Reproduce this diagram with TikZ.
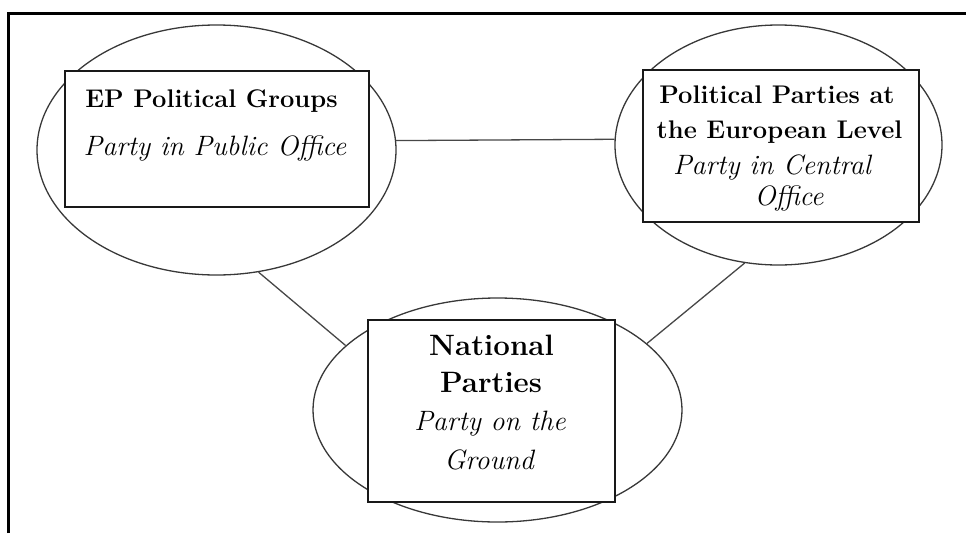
\documentclass[tikz,border=0pt]{standalone}
\usepackage{fontspec}
\usetikzlibrary{shapes.geometric}
\begin{document}
\begin{tikzpicture}[x=1pt,y=-1pt,
  oval/.style={draw=black!78, line width=1.3pt, ellipse, inner sep=0pt},
  box/.style={draw=black!90, line width=1.5pt, fill=white, rectangle, inner sep=0pt},
  link/.style={draw=black!72, line width=1.3pt},
  frameline/.style={line width=2.3pt},
  hd/.style={anchor=base, inner sep=0pt, font=\fontsize{25.5}{30}\selectfont\bfseries},
  hdbig/.style={anchor=base, inner sep=0pt, font=\fontsize{29.5}{34}\selectfont\bfseries},
  sub/.style={anchor=base, inner sep=0pt, font=\fontsize{28}{33}\selectfont\itshape}]
\useasboundingbox (0,0) rectangle (966,533);
\draw[frameline] (8.5,533) -- (8.5,13.5) -- (966,13.5);
% ellipses
\node[oval, minimum width=359pt, minimum height=250pt] (ep) at (216.5,150) {};
\node[oval, minimum width=327pt, minimum height=240pt] (eu) at (778.5,145) {};
\node[oval, minimum width=369pt, minimum height=224pt] (nat) at (497.5,410) {};
% connectors
\draw[link] (ep.3) -- (eu.178);
\draw[link] (ep.-71.5) -- (nat.157.6);
\draw[link] (eu.-106.9) -- (nat.24.7);
% boxes
\node[box, minimum width=304pt, minimum height=136pt] (epbox) at (217,139) {};
\node[box, minimum width=276pt, minimum height=152pt] (eubox) at (781,146) {};
\node[box, minimum width=247pt, minimum height=182pt] (natbox) at (491.5,411) {};
% texts
\node[hd] (ep1) at (211.5,107) {EP Political Groups};
\node[sub] (ep2) at (215,155) {Party in Public Office};
\node[hd] (eu1) at (777,103) {Political Parties at};
\node[hd] (eu2) at (779.5,138) {the European Level};
\node[sub] (eu3) at (772,174) {Party in Central};
\node[sub] (eu4) at (789,205) {Office};
\node[hdbig] (nat1) at (491.5,355) {National};
\node[hdbig] (nat2) at (491,392) {Parties};
\node[sub] (nat3) at (490,430) {Party on the};
\node[sub] (nat4) at (489,469) {Ground};
\end{tikzpicture}
\end{document}
